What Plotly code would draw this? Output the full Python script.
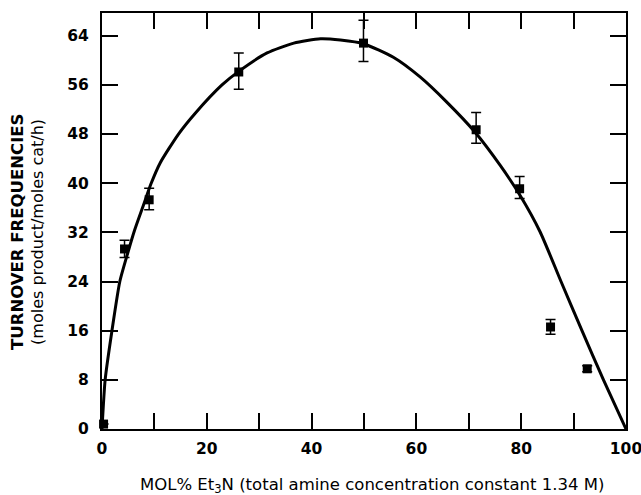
import plotly.graph_objects as go

# measured points
pt_x = [0.3, 4.3, 9.0, 26.1, 49.9, 71.4, 79.7, 85.6, 92.6]
pt_y = [0.8, 29.3, 37.3, 58.1, 62.8, 48.7, 39.1, 16.6, 9.8]
err_plus = [0.0, 1.4, 1.9, 3.1, 3.7, 2.8, 2.0, 1.2, 0.5]
err_minus = [0.0, 1.4, 1.6, 2.8, 3.0, 2.2, 1.6, 1.2, 0.5]

# fitted curve
fit_x = [0, 0.6, 1.9, 3.4, 4.9, 6.2, 7.9, 9.35, 11.1, 14.6, 17.8, 22.9, 26.1, 31.5, 36.6,
         41.7, 45.5, 49.9, 55.6, 60.7, 65.8, 71.2, 76.0, 79.8, 83.6, 87.6, 91.6, 95.7, 100]
fit_y = [0, 8, 16, 24.0, 28.6, 32.3, 36.4, 39.9, 43.3, 48.0, 51.4, 56.0, 58.2, 61.2, 62.8,
         63.5, 63.3, 62.7, 60.5, 57.3, 53.2, 48.3, 42.9, 38.0, 32.1, 24, 16, 8, 0]

x_ticks = [0, 10, 20, 30, 40, 50, 60, 70, 80, 90, 100]
x_labels = ["0", "", "20", "", "40", "", "60", "", "80", "", "100"]
y_ticks = [0, 8, 16, 24, 32, 40, 48, 56, 64]

FONT = "DejaVu Sans"

fig = go.Figure()
fig.add_trace(go.Scatter(
    x=fit_x, y=fit_y, mode="lines",
    line=dict(color="black", width=3, shape="spline", smoothing=0.6),
    hoverinfo="skip", cliponaxis=False))
fig.add_trace(go.Scatter(
    x=pt_x, y=pt_y, mode="markers",
    marker=dict(symbol="square", size=9, color="black"),
    error_y=dict(type="data", symmetric=False, array=err_plus, arrayminus=err_minus,
                 color="black", thickness=1.5, width=5),
    cliponaxis=False))

fig.update_layout(
    width=641, height=495,
    margin=dict(l=102, r=15, t=13, b=66, autoexpand=False),
    plot_bgcolor="white", paper_bgcolor="white",
    showlegend=False,
    font=dict(family=FONT, color="black"),
    xaxis=dict(range=[0, 100], tickvals=x_ticks, ticktext=x_labels,
               ticks="inside", ticklen=16, tickwidth=1.5, tickcolor="black",
               showline=True, linewidth=2, linecolor="black", mirror="ticks",
               showgrid=False, zeroline=False, ticklabelstandoff=4,
               ticklabeloverflow="allow",
               tickfont=dict(family=FONT, size=15.5, weight="bold")),
    yaxis=dict(range=[0, 67.7], tickvals=y_ticks,
               ticks="inside", ticklen=16, tickwidth=1.5, tickcolor="black",
               showline=True, linewidth=2, linecolor="black", mirror="ticks",
               showgrid=False, zeroline=False, ticklabelstandoff=8,
               ticklabeloverflow="allow",
               tickfont=dict(family=FONT, size=15.5, weight="bold")),
)

fig.add_annotation(text="MOL% Et<sub>3</sub>N (total amine concentration constant 1.34 M)",
                   xref="paper", yref="paper", x=0.515, y=-0.136,
                   xanchor="center", yanchor="middle", showarrow=False,
                   font=dict(family=FONT, size=16.5))
fig.add_annotation(text="<b>TURNOVER FREQUENCIES</b>", textangle=-90,
                   xref="paper", yref="paper", x=-0.160, y=0.474,
                   xanchor="center", yanchor="middle", showarrow=False,
                   font=dict(family=FONT, size=16.5))
fig.add_annotation(text="(moles product/moles cat/h)", textangle=-90,
                   xref="paper", yref="paper", x=-0.122, y=0.474,
                   xanchor="center", yanchor="middle", showarrow=False,
                   font=dict(family=FONT, size=16))

# remove the page's default body margin so the figure fills the 641x495 window
fig.write_html("out.html", config={"displayModeBar": False},
               post_script="document.body.style.margin='0';")
